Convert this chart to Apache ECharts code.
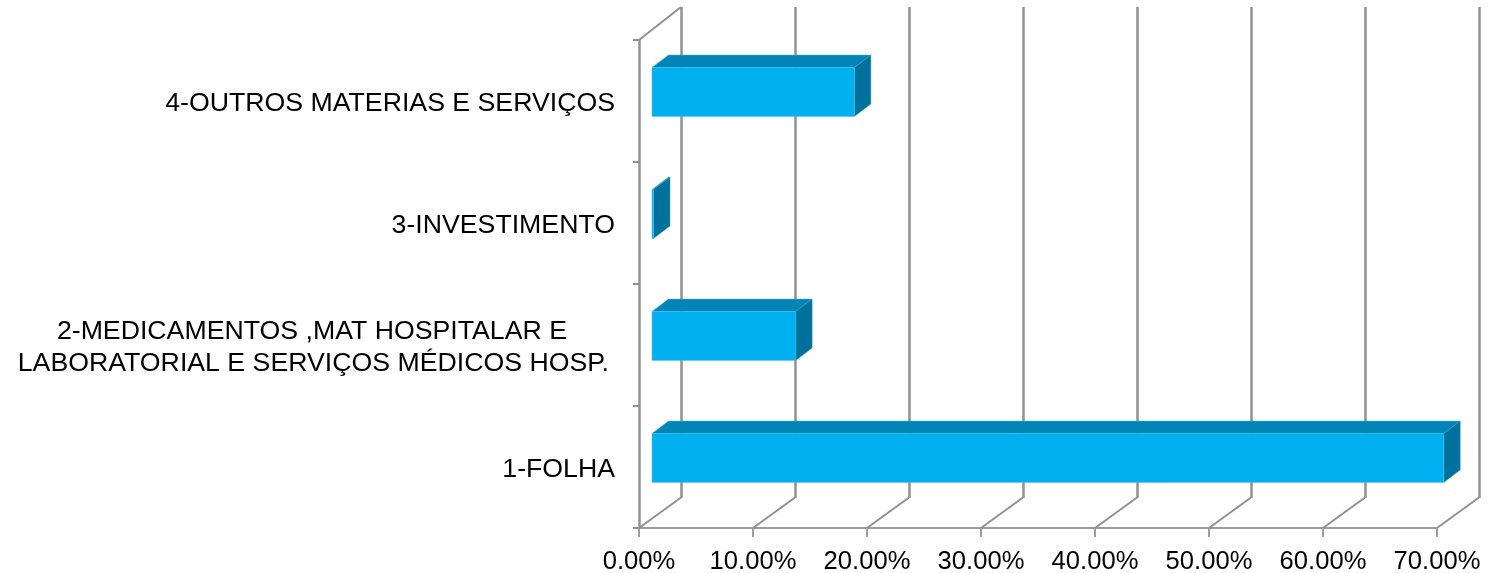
<!DOCTYPE html>
<html>
<head>
<meta charset="utf-8">
<title>Despesas</title>
<style>
  html, body { margin: 0; padding: 0; background: #ffffff; }
  #chart { width: 1498px; height: 573px; }
</style>
</head>
<body>
<div id="chart"></div>
<script src="https://cdn.jsdelivr.net/npm/echarts@6/dist/echarts.min.js"></script>
<script>
const categories = [
  '1-FOLHA',
  '2-MEDICAMENTOS ,MAT HOSPITALAR E\nLABORATORIAL E SERVIÇOS MÉDICOS HOSP.',
  '3-INVESTIMENTO',
  '4-OUTROS MATERIAS E SERVIÇOS',
];
const percentages = [69.45, 12.6, 0.13, 17.75];
const xTicks = [0, 10, 20, 30, 40, 50, 60, 70];

const LINE = '#919191';
const FACE = '#00b0f0';
const TOP = '#0085b6';
const SIDE = '#00709c';
const FONT = '"Liberation Sans", Arial, sans-serif';
const LABEL_SIZE = 26.7;

const chart = echarts.init(document.getElementById('chart'), null, { renderer: 'canvas' });

// 3d look: the bar sits inside the depth of the floor
function renderBar(params, api) {
  const value = api.value(0);
  const p = api.coord([value, api.value(1)]);
  const base = api.coord([0, api.value(1)]);
  const bandH = api.size([0, 1])[1];
  const h = bandH * 0.4;
  const x0 = base[0] + 13;
  const x1 = p[0] + 13;
  const y0 = p[1] - 9 - h / 2;
  const y1 = y0 + h;
  const dx = 16.5;
  const dy = -12.5;
  return {
    type: 'group',
    children: [
      {
        type: 'polygon',
        shape: { points: [[x0, y0], [x1, y0], [x1 + dx, y0 + dy], [x0 + dx, y0 + dy]] },
        style: { fill: TOP, stroke: '#33b4e4', lineWidth: 0.5 },
      },
      {
        type: 'polygon',
        shape: { points: [[x1, y0], [x1 + dx, y0 + dy], [x1 + dx, y1 + dy], [x1, y1]] },
        style: { fill: SIDE, stroke: '#2f9fcb', lineWidth: 0.5 },
      },
      {
        type: 'rect',
        shape: { x: x0, y: y0, width: x1 - x0, height: y1 - y0 },
        style: { fill: FACE, stroke: '#45c6f5', lineWidth: 0.5 },
      },
    ],
  };
}

// diagonal floor lines, one per tick
function renderFloor(params, api) {
  const p = api.coord([api.value(0), 0]);
  return {
    type: 'line',
    shape: { x1: p[0], y1: p[1], x2: p[0] + 42, y2: p[1] - 30.5 },
    style: { stroke: LINE, lineWidth: 2 },
  };
}

// the slanted top edge of the left wall
function renderWallTop(params, api) {
  const p = api.coord([api.value(0), api.value(1)]);
  return {
    type: 'line',
    shape: { x1: p[0], y1: p[1], x2: p[0] + 42, y2: p[1] - 33 },
    style: { stroke: LINE, lineWidth: 2 },
  };
}

chart.setOption({
  animation: false,
  backgroundColor: '#ffffff',
  textStyle: { fontFamily: FONT },
  grid: [
    { left: 639, right: 61, top: 40, bottom: 45, outerBoundsMode: 'none' },
    { left: 681, right: 19, top: 7, bottom: 75, outerBoundsMode: 'none' },
  ],
  xAxis: [
    {
      type: 'value',
      gridIndex: 0,
      min: 0,
      max: 70,
      interval: 10,
      splitLine: { show: false },
      axisLine: { show: true, lineStyle: { color: '#9c9c9c', width: 2 } },
      axisTick: { show: true, length: 9, lineStyle: { color: '#9c9c9c', width: 2 } },
      axisLabel: {
        color: '#000000',
        fontFamily: FONT,
        fontSize: 25.6,
        margin: 21,
        formatter: (v) => v.toFixed(2) + '%',
        showMaxLabel: true,
      },
    },
    {
      type: 'value',
      gridIndex: 1,
      min: 0,
      max: 70,
      interval: 10,
      axisLine: { show: false },
      axisTick: { show: false },
      axisLabel: { show: false },
      splitLine: { show: true, showMinLine: true, showMaxLine: true, lineStyle: { color: LINE, width: 2.5, type: 'solid' } },
    },
  ],
  yAxis: [
    {
      type: 'category',
      gridIndex: 0,
      data: categories,
      axisLine: { show: true, onZero: false, lineStyle: { color: LINE, width: 2.5 } },
      axisTick: { show: true, length: 6, lineStyle: { color: LINE, width: 2 } },
      axisLabel: {
        color: '#000000',
        fontFamily: FONT,
        fontSize: LABEL_SIZE,
        margin: 24,
        interval: 0,
        lineHeight: 32,
        padding: [5, 0, 0, 0],
        // the two line label is centred, not right aligned
        formatter: (v) => {
          const lines = v.split('\n');
          if (lines.length === 1) return v;
          return '{a|' + lines[0] + '}\n{b|' + lines[1] + '}';
        },
        rich: {
          a: { fontFamily: FONT, fontSize: LABEL_SIZE, lineHeight: 32, color: '#000000', padding: [0, 48, 0, 0] },
          b: { fontFamily: FONT, fontSize: LABEL_SIZE, lineHeight: 32, color: '#000000', padding: [0, 6, 0, 0] },
        },
      },
    },
    // plain numeric scale for the custom marks, same box as the categories
    { type: 'value', gridIndex: 0, min: 0, max: 4, show: false, splitLine: { show: false } },
    {
      type: 'value',
      gridIndex: 1,
      min: 0,
      max: 4,
      axisLine: { show: false },
      axisTick: { show: false },
      axisLabel: { show: false },
      splitLine: { show: false },
    },
  ],
  series: [
    {
      type: 'custom',
      name: 'floor',
      xAxisIndex: 0,
      yAxisIndex: 1,
      z: 1,
      silent: true,
      renderItem: renderFloor,
      data: xTicks.map((t) => [t]),
    },
    {
      type: 'custom',
      name: 'wall',
      xAxisIndex: 0,
      yAxisIndex: 1,
      z: 1,
      silent: true,
      renderItem: renderWallTop,
      data: [[0, categories.length]],
    },
    {
      type: 'custom',
      name: 'Despesas',
      xAxisIndex: 0,
      yAxisIndex: 1,
      z: 5,
      renderItem: renderBar,
      encode: { x: 0, y: 1 },
      data: percentages.map((v, i) => [v, i + 0.5]),
    },
  ],
});
</script>
</body>
</html>
